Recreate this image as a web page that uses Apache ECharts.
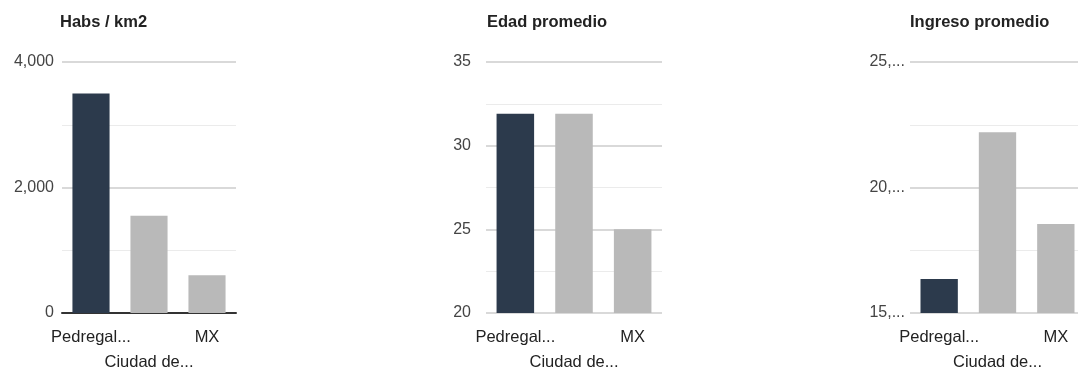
<!DOCTYPE html>
<html>
<head>
<meta charset="utf-8">
<script src="https://cdn.jsdelivr.net/npm/echarts@6/dist/echarts.min.js"></script>
<style>
  html, body { margin: 0; padding: 0; background: #fff; overflow: hidden; }
  #chart { width: 1100px; height: 371px; }
</style>
</head>
<body>
<div id="chart"></div>
<script>
  const categories = ['Pedregal...', 'Ciudad de...', 'MX'];
  const titles = ['Habs / km2', 'Edad promedio', 'Ingreso promedio'];
  const habsValues = [3500, 1550, 600];
  const edadValues = [31.9, 31.9, 25];
  const ingresoValues = [16350, 22200, 18550];
  const barColors = ['#2c3a4c', '#b9b9b9', '#b9b9b9'];
  const yRanges = [[0, 4000, 2000], [20, 35, 5], [15000, 25000, 5000]];

  const gridLefts = [62, 486, 910];
  const gridWidths = [174, 176, 175];
  const titleLefts = [60, 487, 910];
  const labelMargins = [8, 15, 5];
  const allValues = [habsValues, edadValues, ingresoValues];

  const font = 'Arial, "Liberation Sans", sans-serif';

  const yFormatters = [
    v => v.toLocaleString('en-US'),
    v => String(v),
    v => String(v / 1000) + ',...'
  ];

  const chart = echarts.init(document.getElementById('chart'));
  chart.setOption({
    backgroundColor: '#fff',
    animation: false,
    title: titles.map((t, i) => ({
      text: t,
      left: titleLefts[i],
      top: 14,
      padding: 0,
      textStyle: { fontSize: 16.5, fontWeight: 'bold', color: '#222', fontFamily: font }
    })),
    grid: gridLefts.map((l, i) => ({
      left: l, width: gridWidths[i], top: 62, bottom: 58,
      containLabel: false, outerBoundsMode: 'none'
    })),
    xAxis: gridLefts.map((l, i) => ({
      type: 'category',
      gridIndex: i,
      data: categories,
      axisTick: { show: false },
      axisLine: { show: i === 0, lineStyle: { color: '#333', width: 2 } },
      axisLabel: {
        interval: 0,
        margin: 12,
        fontSize: 16.5,
        color: '#222',
        fontFamily: font,
        lineHeight: 25,
        formatter: (v, idx) => (idx % 2 ? '\n' + v : v)
      }
    })),
    yAxis: yRanges.map((r, i) => ({
      type: 'value',
      gridIndex: i,
      min: r[0],
      max: r[1],
      interval: r[2],
      axisLine: { show: false },
      axisTick: { show: false },
      axisLabel: {
        margin: labelMargins[i],
        fontSize: 16,
        color: '#444',
        fontFamily: font,
        formatter: yFormatters[i]
      },
      splitLine: { show: true, lineStyle: { color: '#cccccc', width: 1.5 } },
      minorTick: { show: false, splitNumber: 2 },
      minorSplitLine: { show: true, lineStyle: { color: '#ebebeb', width: 1 } }
    })),
    series: allValues.map((vals, i) => ({
      type: 'bar',
      xAxisIndex: i,
      yAxisIndex: i,
      barWidth: '64%',
      data: vals.map((v, j) => ({ value: v, itemStyle: { color: barColors[j] } }))
    }))
  });
</script>
</body>
</html>
